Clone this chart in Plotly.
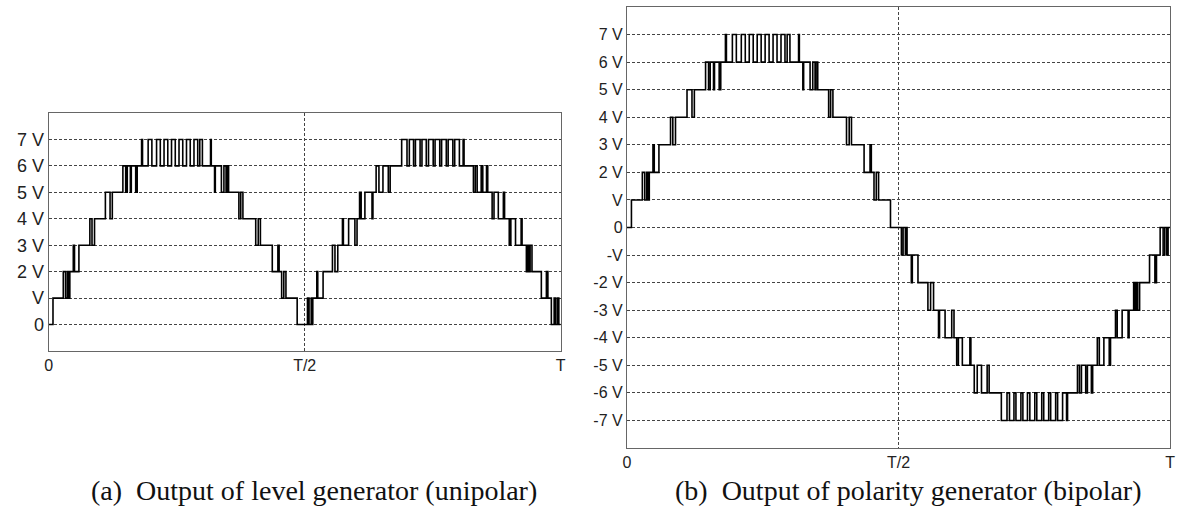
import plotly.graph_objects as go

# Switching instants over one period (arbitrary time units, PERIOD = one full cycle T)
PERIOD = 547.3
switch_times = [
    0, 4.6, 15.6, 18, 20, 21.3, 22.6, 26.3, 27.6, 32.3, 44, 46.3, 49, 60.6, 65.6, 68,
    79.3, 82.3, 84, 87.3, 88.3, 93, 94.6, 99.3, 100.3, 106.3, 110.3, 115.3, 119.3,
    123.3, 127.3, 131.3, 135.3, 139.3, 143.3, 147.3, 151.3, 155.3, 159.3, 161.5, 164.3,
    173, 173.8, 177.3, 178.1, 184.6, 187.3, 189.6, 190.6, 192.3, 203.3, 205.3, 207.6,
    221.3, 224, 226.3, 239, 245, 246.3, 249, 251.3, 253.6, 265.6,
    276.6, 278.3, 280.6, 281.6, 282.3, 286.6, 287.6, 293.3, 303.3, 306, 309, 314, 315,
    320.6, 327.3, 329.6, 332.3, 334, 338, 345.6, 346.6, 350, 353, 357.3, 363, 365,
    377.3, 383, 385.5, 390, 392, 397, 399, 403.6, 406, 411, 413, 418, 420, 425, 427,
    432, 434, 439, 443, 444, 454, 456, 458, 462.3, 464, 468, 469.3, 474, 476, 480.6,
    486, 487.3, 492.3, 494, 499, 505, 506, 510.6, 512, 513.6, 514.6, 516.6, 526.6,
    532, 533.6, 537.3, 540.3, 542, 544, 545.3,
]
# Output level (in units of V) right after each switching instant (bipolar output)
levels = [
    0, 1, 2, 1, 2, 1, 2, 3, 2, 3, 4, 3, 4, 5, 4, 5,
    6, 5, 6, 5, 6, 5, 6, 7, 6, 7, 6, 7, 6,
    7, 6, 7, 6, 7, 6, 7, 6, 7, 6, 7, 6,
    7, 6, 5, 6, 5, 6, 5, 6, 5, 4, 5, 4,
    3, 4, 3, 2, 3, 2, 1, 2, 1, 0,
    -1, 0, -1, 0, -1, -2, -1, -2, -3, -2, -3, -4, -3,
    -4, -3, -4, -5, -4, -5, -4, -5, -6, -5, -6, -5, -6,
    -7, -6, -7, -6, -7, -6, -7, -6, -7, -6, -7, -6, -7, -6, -7,
    -6, -7, -6, -7, -6, -5, -6, -5, -6, -5, -6, -5, -4, -5, -4,
    -5, -4, -3, -4, -3, -4, -3, -2, -3, -2, -3, -2, -1,
    -2, -1, 0, -1, 0, -1, 0,
]

x_tickvals = [0, 0.5, 1]
x_ticktext = ["0", "T/2", "T"]
uni_tickvals = [0, 1, 2, 3, 4, 5, 6, 7]
uni_ticktext = ["0", "V", "2 V", "3 V", "4 V", "5 V", "6 V", "7 V"]
bi_tickvals = list(range(-7, 8))
bi_ticktext = ["-7 V", "-6 V", "-5 V", "-4 V", "-3 V", "-2 V", "-V", "0",
               "V", "2 V", "3 V", "4 V", "5 V", "6 V", "7 V"]
captions = ["(a)  Output of level generator (unipolar)",
            "(b)  Output of polarity generator (bipolar)"]

t_norm = [t / PERIOD for t in switch_times] + [1.0]
bi = levels + [levels[-1]]
uni = [abs(v) for v in bi]

fig = go.Figure()
fig.add_trace(go.Scatter(x=t_norm, y=uni, mode="lines", line=dict(color="black", width=1.6, shape="hv"),
                         xaxis="x", yaxis="y", showlegend=False, hoverinfo="skip"))
fig.add_trace(go.Scatter(x=t_norm, y=bi, mode="lines", line=dict(color="black", width=1.6, shape="hv"),
                         xaxis="x2", yaxis="y2", showlegend=False, hoverinfo="skip"))

sans = "Liberation Sans, Arial, sans-serif"
font_left = dict(family=sans, size=18, color="#222")
font_right = dict(family=sans, size=16, color="#222")
axis_common = dict(showline=True, mirror=True, linecolor="#666", linewidth=1, ticks="",
                   showgrid=True, gridcolor="#444", griddash="3px,2px", gridwidth=1,
                   zeroline=False)

fig.update_layout(
    width=1182, height=511, margin=dict(l=0, r=0, t=0, b=0),
    paper_bgcolor="white", plot_bgcolor="white",
    xaxis=dict(domain=[0.0381, 0.4746], range=[0, 1], tickvals=x_tickvals, ticktext=x_ticktext,
               anchor="y", tickfont=font_right, **axis_common),
    yaxis=dict(domain=[0.3131, 0.7789], range=[-1, 8], tickvals=uni_tickvals, ticktext=uni_ticktext,
               anchor="x", tickfont=font_left, **axis_common),
    xaxis2=dict(domain=[0.531, 0.9941], range=[0, 1], tickvals=x_tickvals, ticktext=x_ticktext,
                anchor="y2", tickfont=font_right, **axis_common),
    yaxis2=dict(domain=[0.1233, 0.9863], range=[-8, 8], tickvals=bi_tickvals, ticktext=bi_ticktext,
                anchor="x2", tickfont=font_right, **axis_common),
)

cap_font = dict(family="Liberation Serif, Times New Roman, serif", size=28, color="#111")
fig.add_annotation(x=0.264, y=0.041, xref="paper", yref="paper", text=captions[0], showarrow=False,
                   font=cap_font, xanchor="center", yanchor="middle")
fig.add_annotation(x=0.771, y=0.041, xref="paper", yref="paper", text=captions[1], showarrow=False,
                   font=cap_font, xanchor="center", yanchor="middle")

# remove the default page margin so the 1182x511 figure fills the window exactly
fig.write_html("out.html", config={"displayModeBar": False},
               post_script="document.body.style.margin='0';document.body.style.overflow='hidden';")
